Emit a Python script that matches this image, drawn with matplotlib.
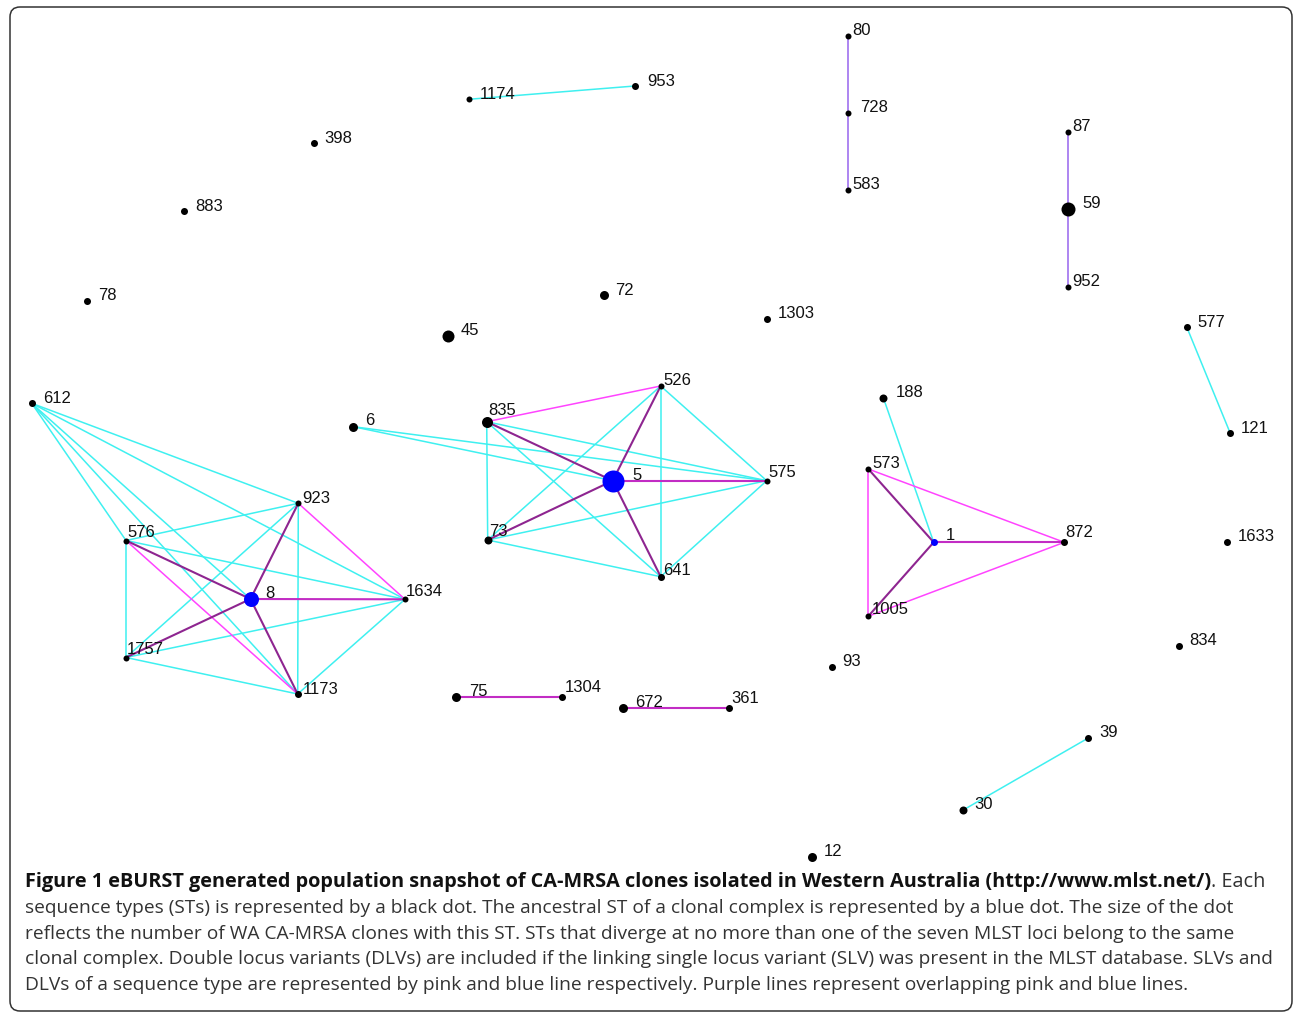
import matplotlib
matplotlib.use("Agg")
import matplotlib.pyplot as plt
from matplotlib.patches import FancyBboxPatch

# ---------------- data ----------------
node_names = ["612", "923", "576", "8", "1634", "1757", "1173",
              "6", "835", "526", "5", "575", "73", "641",
              "188", "573", "1", "872", "1005",
              "80", "728", "583", "87", "59", "952",
              "1174", "953", "398", "883", "78", "72", "45", "1303",
              "577", "121", "1633", "834", "39", "30",
              "75", "1304", "672", "361", "93", "12"]
node_x = [31.7, 298.3, 126, 250.5, 405, 126, 297.7,
          353.3, 486.7, 660.7, 612.7, 766.7, 487.7, 660.7,
          883.3, 868.3, 933.7, 1064.3, 868.3,
          847.7, 847.7, 847.7, 1067.7, 1067.7, 1067.7,
          468.7, 634.8, 313.8, 183.9, 87, 603.6, 447.8, 767,
          1186.7, 1230, 1227.3, 1179, 1088.3, 962.7,
          455.7, 562.3, 622.7, 729.3, 831.7, 811.7]
node_y = [403.3, 503.3, 540.5, 599, 599.3, 657.5, 694,
          426.7, 421.7, 386, 480.7, 480.7, 540, 576.7,
          397.7, 469, 542.3, 542.3, 616.2,
          35.7, 113.3, 190, 132.3, 209.3, 286.7,
          99.3, 86, 142.7, 211, 300.7, 295.3, 336, 319,
          326.9, 432.6, 541.7, 646, 738, 810.3,
          696.7, 696.7, 708.3, 708.3, 667.3, 857.3]
# relative dot size (number of clones) and ancestral flag
node_size = [3.5, 3, 3, 7.5, 3, 3, 3.5,
             4.5, 5.5, 3, 11, 3, 4, 3.5,
             4, 3, 3.5, 3.5, 3,
             3, 3, 3, 3, 7, 3,
             3, 3.5, 3.5, 3.5, 3.5, 4.5, 6, 3.5,
             3.5, 3.5, 3.5, 3.5, 3.5, 4,
             4.5, 3.5, 4.5, 3.5, 3.5, 4.5]
ancestral = ["8", "5", "1"]

# label offsets (layout)
label_dx = [11, 4, 1, 15, 1, 1, 5,
            12, 2, 3, 20, 2, 1, 2,
            12, 4, 12, 1, 3,
            5, 12, 5, 5, 15, 5,
            11, 12, 11, 11, 11, 12, 13, 11,
            11, 11, 10, 10, 11, 12,
            13, 2, 12, 2, 11, 12]
label_dy = [0, 0, -4, -1, -3, -4, 0,
            -2, -7, -1, -1, -4, -4, -2,
            -1, -1, -2, -5, -2,
            -1, -1, -1, -1, -1, -1,
            0, 0, 0, 0, -1, 0, -1, -1,
            0, 0, -1, -1, -1, -1,
            -1, -5, -1, -5, -1, -1]

# edges: DLV (blue/cyan), SLV (pink), overlapping (purple)
edges_dlv = [("612", "923"), ("612", "1634"), ("612", "576"), ("612", "8"), ("612", "1173"),
             ("576", "923"), ("576", "1634"), ("576", "1757"), ("923", "1757"), ("923", "1173"),
             ("1757", "1634"), ("1757", "1173"), ("1634", "1173"),
             ("835", "575"), ("835", "641"), ("835", "73"), ("6", "575"), ("6", "5"),
             ("526", "73"), ("526", "641"), ("526", "575"), ("73", "575"), ("73", "641"),
             ("641", "575"), ("188", "1"), ("1174", "953"), ("577", "121"), ("39", "30")]
edges_slv = [("923", "1634"), ("576", "1173"), ("835", "526"),
             ("573", "872"), ("573", "1005"), ("1005", "872")]
edges_both = [("8", "576"), ("8", "923"), ("8", "1757"), ("8", "1173"),
              ("5", "835"), ("5", "526"), ("5", "73"), ("5", "641"),
              ("1", "573"), ("1", "1005")]
edges_both_h = [("8", "1634"), ("5", "575"), ("1", "872"), ("75", "1304"), ("672", "361")]
edges_chain = [("80", "728"), ("728", "583"), ("87", "59"), ("59", "952")]

caption_bold = ("Figure 1 eBURST generated population snapshot of CA-MRSA clones "
                "isolated in Western Australia (http://www.mlst.net/)")
caption_tail = ". Each"
caption_lines = [
    "sequence types (STs) is represented by a black dot. The ancestral ST of a clonal complex is represented by a blue dot. The size of the dot",
    "reflects the number of WA CA-MRSA clones with this ST. STs that diverge at no more than one of the seven MLST loci belong to the same",
    "clonal complex. Double locus variants (DLVs) are included if the linking single locus variant (SLV) was present in the MLST database. SLVs and",
    "DLVs of a sequence type are represented by pink and blue line respectively. Purple lines represent overlapping pink and blue lines.",
]

# ---------------- drawing ----------------
W, H = 1293, 1013
fig = plt.figure(figsize=(W / 100, H / 100), dpi=100)
ax = fig.add_axes([0, 0, 1, 1])
ax.set_xlim(0, W)
ax.set_ylim(H, 0)
ax.axis("off")

pos = {n: (x, y) for n, x, y in zip(node_names, node_x, node_y)}

def draw_edges(edges, color, lw, z):
    for a, b in edges:
        (x1, y1), (x2, y2) = pos[a], pos[b]
        ax.plot([x1, x2], [y1, y2], color=color, lw=lw, zorder=z,
                solid_capstyle="butt")

draw_edges(edges_dlv, "#3ff0f0", 1.1, 2)
draw_edges(edges_slv, "#ff44ff", 1.1, 3)
draw_edges(edges_both, "#8e2590", 1.5, 4)
draw_edges(edges_both_h, "#c22cc4", 1.5, 4)
draw_edges(edges_chain, "#a77cf0", 1.3, 4)

for n, x, y, r in zip(node_names, node_x, node_y, node_size):
    col = "#0000ff" if n in ancestral else "black"
    ax.scatter([x], [y], s=(1.44 * r) ** 2, color=col, zorder=5, linewidths=0)

for n, x, y, dx, dy in zip(node_names, node_x, node_y, label_dx, label_dy):
    ax.text(x + dx, y + dy, n, fontsize=12, family="Liberation Sans",
            color="#111111", ha="left", va="baseline", zorder=6)

# frame
frame = FancyBboxPatch((10, 7), 1282, 1004,
                       boxstyle="round,pad=0,rounding_size=10",
                       fill=False, ec="#333333", lw=1.1, zorder=1)
ax.add_patch(frame)

# caption with fitted size
renderer = fig.canvas.get_renderer()

def width_px(t):
    bb = t.get_window_extent(renderer=renderer)
    return bb.width

probe = ax.text(0, 0, caption_lines[0], fontsize=10, family="Open Sans")
fs = 10 * (1235 - 25) / width_px(probe)
probe.remove()

probe_b = ax.text(0, 0, caption_bold, fontsize=10, family="Open Sans", weight="bold")
probe_t = ax.text(0, 0, caption_tail, fontsize=10, family="Open Sans")
fs_b = 10 * (1273 - 25) / (width_px(probe_b) + width_px(probe_t))
probe_b.remove()
probe_t.remove()

tb = ax.text(25, 887, caption_bold, fontsize=fs_b, family="Open Sans",
             weight="bold", color="#111111", va="baseline", ha="left")
wb = width_px(tb)
ax.text(25 + wb, 887, caption_tail, fontsize=fs_b, family="Open Sans",
        color="#333333", va="baseline", ha="left")

baselines = [912.7, 938.5, 964.3, 990]
for line, yb in zip(caption_lines, baselines):
    ax.text(25, yb, line, fontsize=fs, family="Open Sans", color="#333333",
            va="baseline", ha="left")

fig.savefig("out.png", dpi=100)
